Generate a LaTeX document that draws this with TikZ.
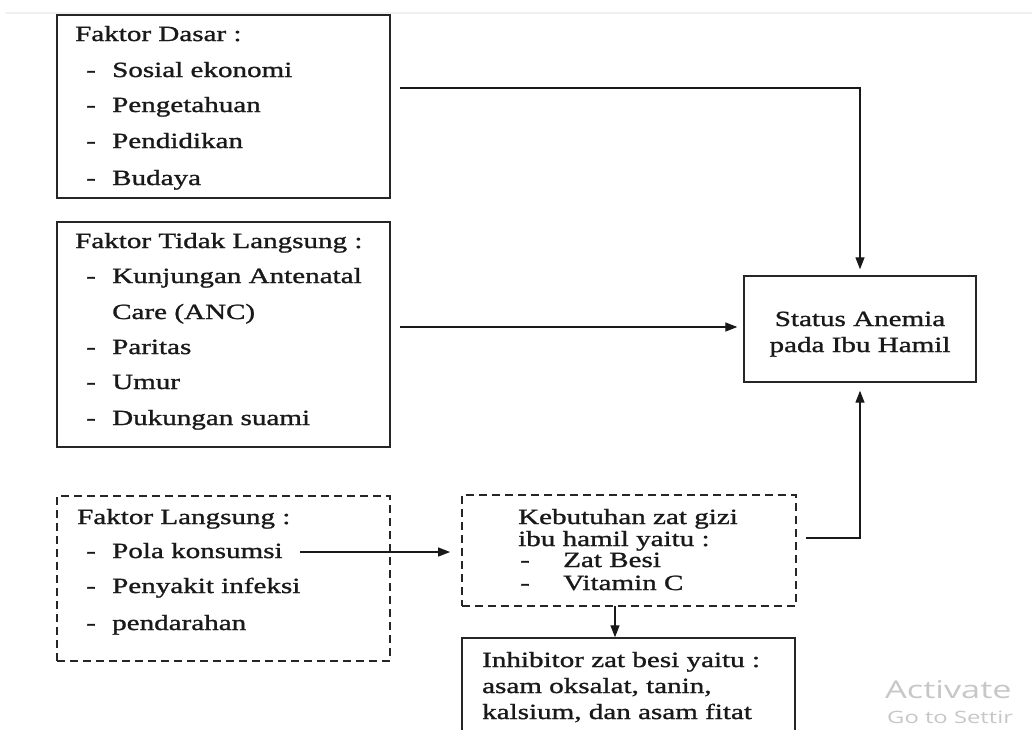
\documentclass[tikz,border=0pt]{standalone}
\usepackage{fontspec}
\setmainfont{Liberation Serif}[FakeStretch=1.34,FakeBold=1.2]
\newfontfamily\wmfont{Open Sans}[FakeStretch=1.4]
\usetikzlibrary{arrows.meta}
\begin{document}
\begin{tikzpicture}[x=1pt,y=-1pt,
  box/.style={draw=black!85, line width=1.4pt, inner sep=0pt},
  dbox/.style={box, dash pattern=on 8pt off 5pt, line width=1.8pt},
  txt/.style={anchor=base west, inner sep=0pt, font=\fontsize{21.7}{26}\selectfont, text=black!90},
  ctxt/.style={txt, anchor=base},
  arr/.style={draw=black!90, line width=1.3pt, -{Triangle[length=12pt,width=9pt]}},
  wm/.style={anchor=base west, inner sep=0pt, text=black!22}]
\useasboundingbox (0,0) rectangle (1032,729);
\fill[white] (0,0) rectangle (1032,729);
\draw[black!6, line width=1.5pt] (5,13) -- (1032,13);

% boxes
\node[box, minimum width=333pt, minimum height=183pt] (dasar) at (223.5,106.5) {};
\node[box, minimum width=333pt, minimum height=225pt] (tidak) at (223.5,334.5) {};
\node[dbox, minimum width=333pt, minimum height=165pt] (langsung) at (223.5,578.5) {};
\node[box, minimum width=232pt, minimum height=106pt] (status) at (860,329) {};
\node[dbox, minimum width=334pt, minimum height=111pt] (keb) at (629,550.5) {};
\node[box, minimum width=333pt, minimum height=122pt] (inhib) at (628.5,699) {};

% Faktor Dasar
\node[txt] (d0) at (75,41) {Faktor Dasar :};
\node[txt] (d1m) at (86,77) {-};  \node[txt] (d1) at (112,77) {Sosial ekonomi};
\node[txt] (d2m) at (86,112) {-}; \node[txt] (d2) at (112,112) {Pengetahuan};
\node[txt] (d3m) at (86,148) {-}; \node[txt] (d3) at (112,148) {Pendidikan};
\node[txt] (d4m) at (86,185) {-}; \node[txt] (d4) at (112,185) {Budaya};

% Faktor Tidak Langsung
\node[txt] (t0) at (75,248) {Faktor Tidak Langsung :};
\node[txt] (t1m) at (86,283) {-}; \node[txt] (t1) at (112,283) {Kunjungan Antenatal};
\node[txt] (t1b) at (112,319) {Care (ANC)};
\node[txt] (t2m) at (86,354) {-}; \node[txt] (t2) at (112,354) {Paritas};
\node[txt] (t3m) at (86,389) {-}; \node[txt] (t3) at (112,389) {Umur};
\node[txt] (t4m) at (86,425) {-}; \node[txt] (t4) at (112,425) {Dukungan suami};

% Faktor Langsung
\node[txt] (l0) at (77,524) {Faktor Langsung :};
\node[txt] (l1m) at (86,558) {-}; \node[txt] (l1) at (112,558) {Pola konsumsi};
\node[txt] (l2m) at (86,593) {-}; \node[txt] (l2) at (112,593) {Penyakit infeksi};
\node[txt] (l3m) at (86,630) {-}; \node[txt] (l3) at (112,630) {pendarahan};

% Status
\node[ctxt] (s1) at (860,326) {Status Anemia};
\node[ctxt] (s2) at (860,352) {pada Ibu Hamil};

% Kebutuhan
\node[txt] (k1) at (518,524) {Kebutuhan zat gizi};
\node[txt] (k2) at (518,546) {ibu hamil yaitu :};
\node[txt] (k3m) at (520,567) {-}; \node[txt] (k3) at (563,567) {Zat Besi};
\node[txt] (k4m) at (520,590) {-}; \node[txt] (k4) at (563,590) {Vitamin C};

% Inhibitor
\node[txt] (i1) at (482,667) {Inhibitor zat besi yaitu :};
\node[txt] (i2) at (482,693) {asam oksalat, tanin,};
\node[txt] (i3) at (482,719) {kalsium, dan asam fitat};

% connectors
\coordinate (a1) at (400,88);
\coordinate (a2) at (400,327);
\coordinate (a3) at (300,552);
\coordinate (a4) at (806,538);
\coordinate (a5) at (615,606);
\draw[arr, shorten >=6pt] (a1) -| (status.north);
\draw[arr, shorten >=6pt] (a2) -- (status.west |- a2);
\draw[arr, shorten >=11pt] (a3) -- (keb.west |- a3);
\draw[arr, shorten >=8pt] (a4) -| (status.south);
\draw[arr] (a5) -- (a5 |- inhib.north);

% watermark
\node[wm, font=\wmfont\fontsize{24.5}{26}\selectfont] (w1) at (885,698) {Activate};
\node[wm, font=\wmfont\fontsize{17}{20}\selectfont] (w2) at (887,723) {Go to Settir};
\end{tikzpicture}
\end{document}
